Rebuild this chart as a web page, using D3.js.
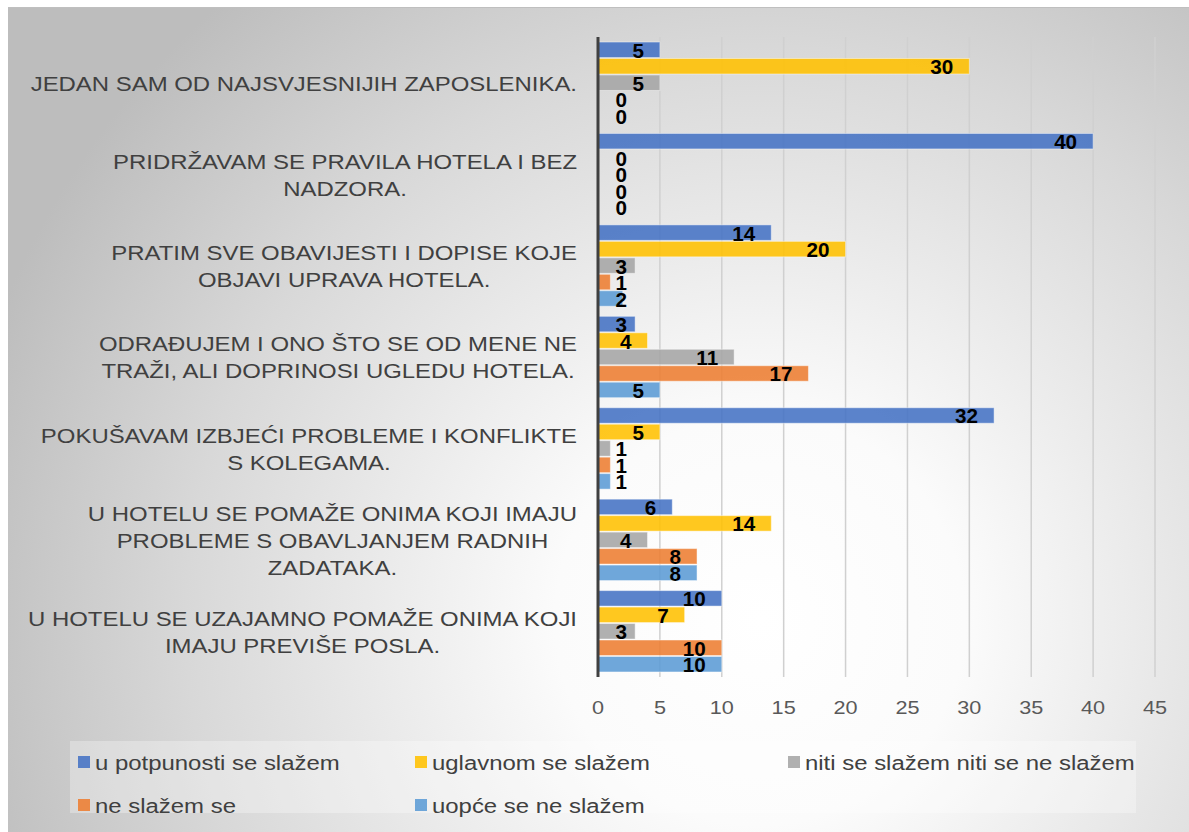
<!DOCTYPE html>
<html>
<head>
<meta charset="utf-8">
<script src="https://cdn.jsdelivr.net/npm/d3@7"></script>
<style>
  body { margin: 0; background: #ffffff; }
  svg { display: block; }
</style>
</head>
<body>
<div id="chart"></div>
<script>
// categories, top to bottom (already wrapped as in the original)
var categories = [
  ["JEDAN SAM OD NAJSVJESNIJIH ZAPOSLENIKA."],
  ["PRIDRŽAVAM SE PRAVILA HOTELA I BEZ", "NADZORA."],
  ["PRATIM SVE OBAVIJESTI I DOPISE KOJE", "OBJAVI UPRAVA HOTELA."],
  ["ODRAĐUJEM I ONO ŠTO SE OD MENE NE", "TRAŽI, ALI DOPRINOSI UGLEDU HOTELA."],
  ["POKUŠAVAM IZBJEĆI PROBLEME I KONFLIKTE", "S KOLEGAMA."],
  ["U HOTELU SE POMAŽE ONIMA KOJI IMAJU", "PROBLEME S OBAVLJANJEM RADNIH", "ZADATAKA."],
  ["U HOTELU SE UZAJAMNO POMAŽE ONIMA KOJI", "IMAJU PREVIŠE POSLA."]
];

var seriesNames = ["u potpunosti se slažem", "uglavnom se slažem", "niti se slažem niti se ne slažem", "ne slažem se", "uopće se ne slažem"];
var seriesColors = ["#4472C4", "#FFC000", "#A5A5A5", "#ED7D31", "#5B9BD5"];

var potpuno  = [5, 40, 14, 3, 32, 6, 10];
var uglavnom = [30, 0, 20, 4, 5, 14, 7];
var niti     = [5, 0, 3, 11, 1, 4, 3];
var neSlazem = [0, 0, 1, 17, 1, 8, 10];
var uopce    = [0, 0, 2, 5, 1, 8, 10];

var xTicks = [0, 5, 10, 15, 20, 25, 30, 35, 40, 45];

var seriesValues = [potpuno, uglavnom, niti, neSlazem, uopce];

var W = 1189, H = 832;
var plot = {left: 598, right: 1155, top: 37, bottom: 677};
var stretch = 1.14; // the original picture is a bit wider than tall

var svg = d3.select("#chart").append("svg")
  .attr("width", W).attr("height", H);

//background panel with a soft radial gradient
var defs = svg.append("defs");
var grad = defs.append("radialGradient")
  .attr("id", "bg")
  .attr("gradientUnits", "userSpaceOnUse")
  .attr("cx", 760).attr("cy", 620).attr("r", 820);
grad.append("stop").attr("offset", "0%").attr("stop-color", "#ffffff");
grad.append("stop").attr("offset", "25%").attr("stop-color", "#fbfbfb");
grad.append("stop").attr("offset", "70%").attr("stop-color", "#d8d8d8");
grad.append("stop").attr("offset", "100%").attr("stop-color", "#bdbdbd");

svg.append("rect")
  .attr("x", 8).attr("y", 7)
  .attr("width", W - 8).attr("height", H - 7)
  .attr("fill", "url(#bg)");
svg.append("line")
  .attr("x1", 8).attr("x2", W).attr("y1", 7.5).attr("y2", 7.5)
  .attr("stroke", "#bfbfbf").attr("stroke-width", 1);

//scales
var x = d3.scaleLinear().domain([0, 45]).range([plot.left, plot.right]);
var y0 = d3.scaleBand().domain(d3.range(categories.length))
  .range([plot.top, plot.bottom]).paddingInner(0.11).paddingOuter(0.055);
var y1 = d3.scaleBand().domain(d3.range(seriesNames.length))
  .range([0, y0.bandwidth()]).paddingInner(0.06);

//gridlines
svg.append("g").selectAll("line").data(xTicks.slice(1)).enter().append("line")
  .attr("x1", d => x(d)).attr("x2", d => x(d))
  .attr("y1", plot.top).attr("y2", plot.bottom)
  .attr("stroke", "#d0d0d0").attr("stroke-width", 1.5);

//x tick labels
svg.append("g").selectAll("text").data(xTicks).enter().append("text")
  .attr("transform", d => "translate(" + x(d) + ",714) scale(" + stretch + ",1)")
  .attr("text-anchor", "middle")
  .attr("font-family", "Liberation Sans, Arial, sans-serif")
  .attr("font-size", 19)
  .attr("fill", "#595959")
  .text(d => d);

//bars
var groups = svg.append("g").selectAll("g").data(categories).enter().append("g")
  .attr("transform", (d, i) => "translate(0," + y0(i) + ")");

groups.each(function(c, ci) {
  var g = d3.select(this);
  var rows = seriesValues.map((vals, si) => ({s: si, v: vals[ci]}));

  g.selectAll("rect").data(rows).enter().append("rect")
    .attr("x", x(0))
    .attr("y", d => y1(d.s))
    .attr("width", d => x(d.v) - x(0))
    .attr("height", y1.bandwidth())
    .attr("fill", d => seriesColors[d.s])
    .attr("fill-opacity", 0.88)
    .attr("stroke", "#ffffff").attr("stroke-opacity", 0.45).attr("stroke-width", 1);

  g.selectAll("text").data(rows).enter().append("text")
    .attr("transform", d => "translate(" + Math.max(x(d.v) - 16, x(0) + 29) + "," +
      (y1(d.s) + y1.bandwidth() / 2 + 8) + ") scale(1.06,1)")
    .attr("text-anchor", "end")
    .attr("font-family", "Liberation Sans, Arial, sans-serif")
    .attr("font-weight", "bold")
    .attr("font-size", 19.5)
    .attr("fill", "#000000")
    .text(d => d.v);
});

//axis line
svg.append("line")
  .attr("x1", x(0)).attr("x2", x(0))
  .attr("y1", plot.top).attr("y2", plot.bottom)
  .attr("stroke", "#404040").attr("stroke-width", 3);

//category labels: lines centered in a block whose right edge sits by the axis
var lineH = 27;
var labelRight = 577;
categories.forEach(function(lines, ci) {
  var cy = y0(ci) + y0.bandwidth() / 2;
  var t = svg.append("text")
    .attr("transform", "translate(" + labelRight + ",0) scale(" + stretch + ",1)")
    .attr("font-family", "Liberation Sans, Arial, sans-serif")
    .attr("font-size", 21)
    .attr("fill", "#404040")
    .attr("text-anchor", "middle");
  var spans = lines.map(function(l, li) {
    return t.append("tspan")
      .attr("y", cy + (li - (lines.length - 1) / 2) * lineH + 8)
      .text(l);
  });
  var maxW = d3.max(spans, s => s.node().getComputedTextLength());
  spans.forEach(s => s.attr("x", -maxW / 2));
});

//legend
svg.append("rect")
  .attr("x", 70).attr("y", 741).attr("width", 1066).attr("height", 72)
  .attr("fill", "#ffffff").attr("fill-opacity", 0.3);

var legendX = [78, 415, 788];
var legendY = [762, 805];
var legend = svg.append("g").selectAll("g").data(seriesNames).enter().append("g")
  .attr("transform", (d, i) => "translate(" + legendX[i % 3] + "," + legendY[Math.floor(i / 3)] + ")");
legend.append("rect")
  .attr("x", 0).attr("y", -6).attr("width", 12).attr("height", 12)
  .attr("fill", (d, i) => seriesColors[i])
  .attr("fill-opacity", 0.88);
legend.append("text")
  .attr("transform", "translate(17,8) scale(" + stretch + ",1)")
  .attr("font-family", "Liberation Sans, Arial, sans-serif")
  .attr("font-size", 21)
  .attr("fill", "#404040")
  .text(d => d);
</script>
</body>
</html>
